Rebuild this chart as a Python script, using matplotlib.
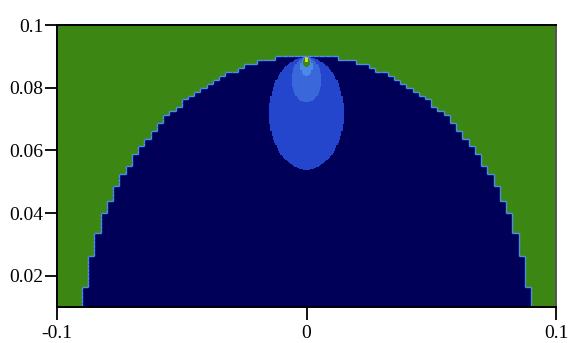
import numpy as np
import matplotlib.pyplot as plt
from matplotlib.colors import ListedColormap, BoundaryNorm
from matplotlib.collections import LineCollection

# plot window
x_range = [-0.1, 0.1]
y_range = [0.01, 0.1]

# circular domain (centred at origin) sampled on a coarse mesh
domain_radius = 0.0903
coarse_dx = 0.0025
coarse_dy = 0.00125

# field parameters: source point on top of the domain, anisotropy factor
source_y = 0.0898
x_scale = 1.2

# contour levels and their colours
levels = [-1e9, 27.8, 69.0, 167.0, 300.0, 700.0, 1e9]
level_colors = ['#000058', '#2346cc', '#3a68da', '#4b8ae9', '#3c8714', '#d8d62e']
outside_value = 500.0
rim_color = '#4a8ef0'

xticks = [-0.1, 0, 0.1]
xtick_labels = ['-0.1', '0', '0.1']
yticks = [0.02, 0.04, 0.06, 0.08, 0.1]
ytick_labels = ['0.02', '0.04', '0.06', '0.08', '0.1']

# fine mesh for the field
xe = np.linspace(x_range[0], x_range[1], 401)
ye = np.linspace(y_range[0], y_range[1], 301)
xc = 0.5 * (xe[:-1] + xe[1:])
yc = 0.5 * (ye[:-1] + ye[1:])
X, Y = np.meshgrid(xc, yc)

# snap each fine cell to the centre of its coarse cell for the domain mask
def snap(v, lo, step):
    return lo + (np.floor((v - lo) / step) + 0.5) * step

Xs = snap(X, x_range[0], coarse_dx)
Ys = snap(Y, y_range[0], coarse_dy)
inside = Xs**2 + Ys**2 <= domain_radius**2

d = source_y - Y
with np.errstate(divide='ignore', invalid='ignore'):
    field = d / ((x_scale * X)**2 + d**2)
field = np.where(inside, field, outside_value)

cmap = ListedColormap(level_colors)
norm = BoundaryNorm(levels, cmap.N)

fig, ax = plt.subplots(figsize=(5.72, 3.43), dpi=100)
fig.subplots_adjust(left=0.0997, right=0.972, bottom=0.105, top=0.927)
ax.pcolormesh(xe, ye, field, cmap=cmap, norm=norm, shading='flat')

# staircase outline of the coarse domain
cx_e = np.arange(x_range[0], x_range[1] + coarse_dx / 2, coarse_dx)
cy_e = np.arange(y_range[0], y_range[1] + coarse_dy / 2, coarse_dy)
cxc = 0.5 * (cx_e[:-1] + cx_e[1:])
cyc = 0.5 * (cy_e[:-1] + cy_e[1:])
CX, CY = np.meshgrid(cxc, cyc)
cin = CX**2 + CY**2 <= domain_radius**2
segs = []
ny, nx = cin.shape
for j in range(ny):
    for i in range(nx - 1):
        if cin[j, i] != cin[j, i + 1]:
            segs.append([(cx_e[i + 1], cy_e[j]), (cx_e[i + 1], cy_e[j + 1])])
for j in range(ny - 1):
    for i in range(nx):
        if cin[j, i] != cin[j + 1, i]:
            segs.append([(cx_e[i], cy_e[j + 1]), (cx_e[i + 1], cy_e[j + 1])])
ax.add_collection(LineCollection(segs, colors=rim_color, linewidths=1.0))

ax.set_xlim(x_range)
ax.set_ylim(y_range)
ax.set_xticks(xticks)
ax.set_xticklabels(xtick_labels)
ax.set_yticks(yticks)
ax.set_yticklabels(ytick_labels)
for lab in ax.get_xticklabels() + ax.get_yticklabels():
    lab.set_family('Liberation Serif')
    lab.set_fontsize(14)
ax.tick_params(direction='out', length=9, width=1.3, color='black')
ax.tick_params(axis='y', pad=1)
ax.tick_params(axis='x', pad=4)
for s in ax.spines.values():
    s.set_linewidth(1.4)
ax.spines['right'].set_color('#555555')

fig.savefig('out.png', dpi=100)
